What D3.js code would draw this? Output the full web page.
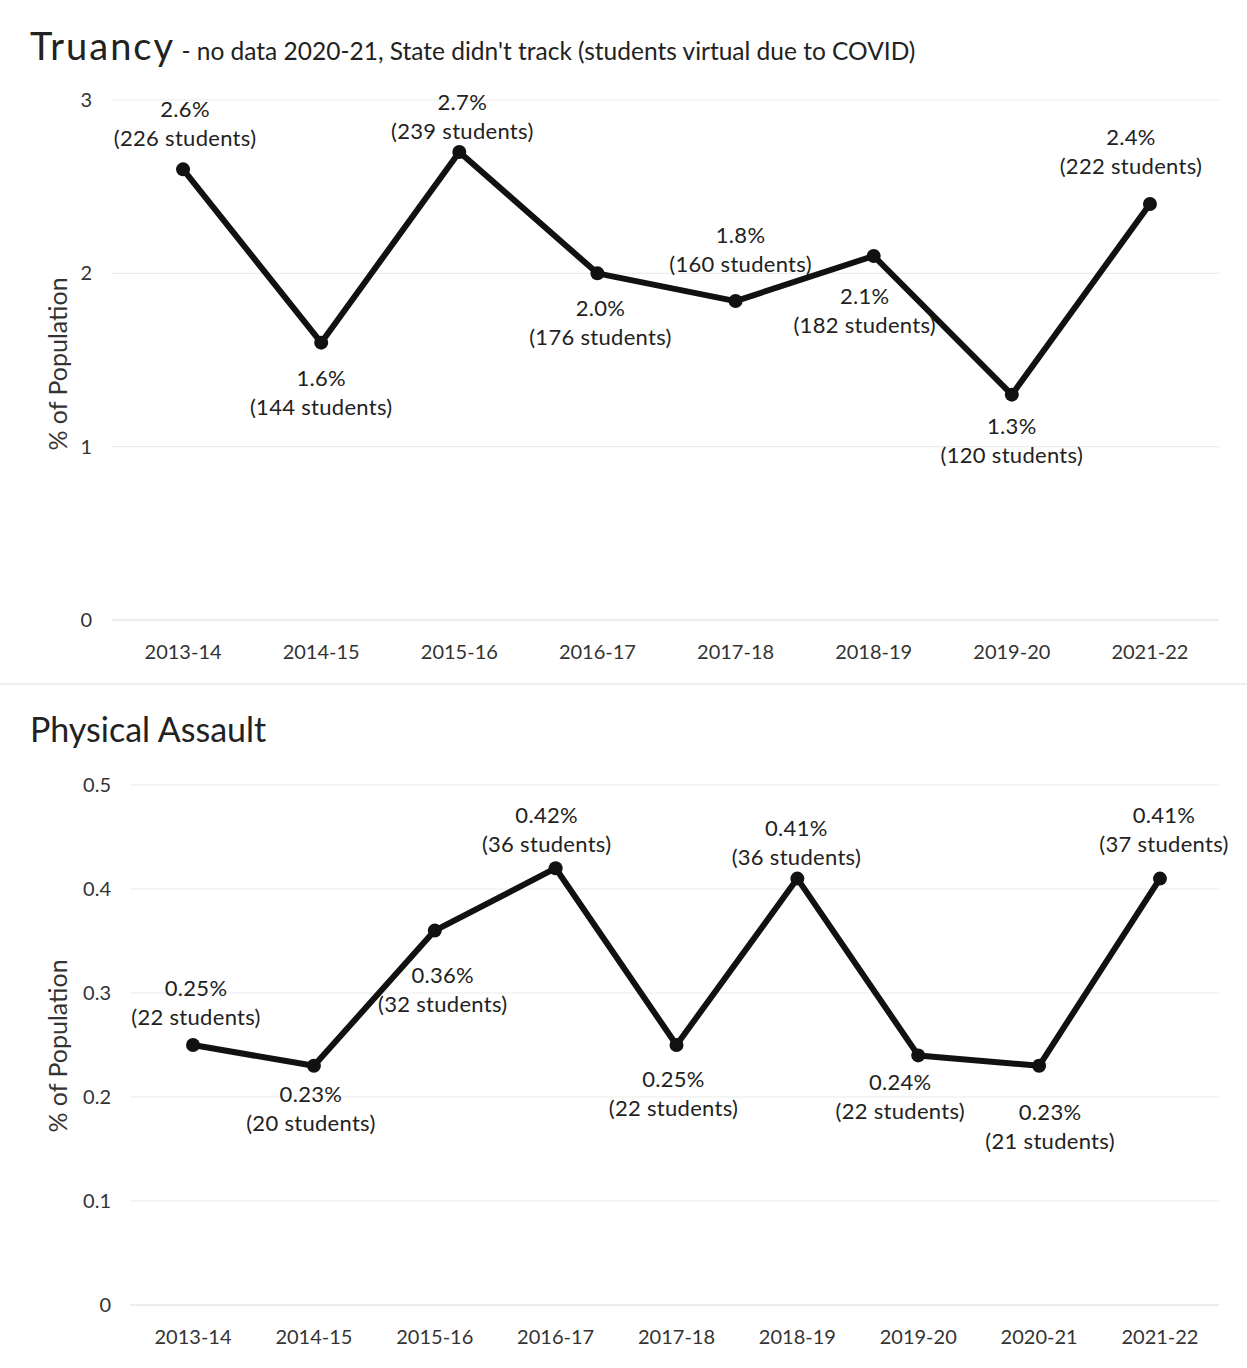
<!DOCTYPE html>
<html>
<head>
<meta charset="utf-8">
<script src="https://cdn.jsdelivr.net/npm/d3@7"></script>
<style>
  body { margin: 0; background: #fff; }
  svg text { font-family: Lato, "Open Sans", sans-serif; fill: #222; }
</style>
</head>
<body>
<div id="chart"></div>
<script>
// ---- data: truancy ----
const truancyYears = ['2013-14', '2014-15', '2015-16', '2016-17', '2017-18', '2018-19', '2019-20', '2021-22'];
const truancyPct = [2.6, 1.6, 2.7, 2.0, 1.84, 2.1, 1.3, 2.4];
const truancyPctText = ['2.6%', '1.6%', '2.7%', '2.0%', '1.8%', '2.1%', '1.3%', '2.4%'];
const truancyStudents = [226, 144, 239, 176, 160, 182, 120, 222];
const truancyTicks = [0, 1, 2, 3];

// ---- data: physical assault ----
const assaultYears = ['2013-14', '2014-15', '2015-16', '2016-17', '2017-18', '2018-19', '2019-20', '2020-21', '2021-22'];
const assaultPct = [0.25, 0.23, 0.36, 0.42, 0.25, 0.41, 0.24, 0.23, 0.41];
const assaultPctText = ['0.25%', '0.23%', '0.36%', '0.42%', '0.25%', '0.41%', '0.24%', '0.23%', '0.41%'];
const assaultStudents = [22, 20, 32, 36, 22, 36, 22, 21, 37];
const assaultTicks = [0, 0.1, 0.2, 0.3, 0.4, 0.5];

// label placement (offset of the first label line from its point: dx, dy)
const truancyLabelPos = [[2, -60], [0, 36], [3, -50], [3, 35], [5, -66], [-9, 40], [0, 32], [-19, -67]];
const assaultLabelPos = [[3, -57], [-3, 28], [8, 45], [-9, -53], [-3, 34], [-1, -50], [-18, 27], [11, 46], [4, -63]];

const W = 1247, H = 1368;
const svg = d3.select('#chart').append('svg').attr('width', W).attr('height', H);
svg.append('rect').attr('width', W).attr('height', H).attr('fill', '#fff');

// faint panel separator like the scanned page
svg.append('line').attr('x1', 0).attr('x2', W).attr('y1', 684).attr('y2', 684)
  .attr('stroke', '#e8e8e8').attr('stroke-width', 1.5);

function drawPanel(o) {
  const g = svg.append('g');
  const x = d3.scalePoint().domain(o.cats).range(o.xRange).padding(0.5);
  const y = d3.scaleLinear().domain([0, d3.max(o.ticks)]).range(o.yRange);

  // grid
  g.selectAll('.grid').data(o.ticks).join('line')
    .attr('x1', o.gridX[0]).attr('x2', o.gridX[1])
    .attr('y1', d => y(d)).attr('y2', d => y(d))
    .attr('stroke', d => d === 0 ? '#dcdcdc' : '#ececec').attr('stroke-width', 1.2);

  // y tick labels
  g.selectAll('.yt').data(o.ticks).join('text')
    .attr('x', o.yLabelX).attr('y', d => y(d)).attr('dy', '0.35em')
    .attr('text-anchor', 'end').attr('font-size', '20px').style('fill', '#333')
    .text(d => d);

  // x tick labels
  g.selectAll('.xt').data(o.cats).join('text')
    .attr('x', d => x(d)).attr('y', o.xLabelY).attr('dy', '0.35em')
    .attr('text-anchor', 'middle').attr('font-size', '20px').style('fill', '#333')
    .text(d => d);

  // y axis title
  g.append('text')
    .attr('transform', `translate(58,${o.yTitleY}) rotate(-90)`)
    .attr('dy', '0.35em').attr('text-anchor', 'middle')
    .attr('font-size', '25px').style('fill', '#333').text('% of Population');

  // title
  const t = g.append('text').attr('x', 30).attr('y', o.titleY);
  t.append('tspan').attr('font-size', o.titleSize + 'px')
    .attr('letter-spacing', o.titleSpacing).text(o.title);
  if (o.subtitle) t.append('tspan').attr('font-size', '24.5px').text(o.subtitle);

  const pts = o.cats.map((c, i) => ({ c, v: o.values[i], i }));

  // line
  g.append('path').datum(pts)
    .attr('d', d3.line().x(d => x(d.c)).y(d => y(d.v)))
    .attr('fill', 'none').attr('stroke', '#111').attr('stroke-width', 6)
    .attr('stroke-linejoin', 'round');

  // markers
  g.selectAll('.pt').data(pts).join('circle')
    .attr('cx', d => x(d.c)).attr('cy', d => y(d.v)).attr('r', 7).attr('fill', '#111');

  // data labels
  pts.forEach(d => {
    const [dx, dy] = o.labelPos[d.i];
    const cx = x(d.c) + dx, cy = y(d.v) + dy;
    g.append('text').attr('x', cx).attr('y', cy).attr('dy', '0.35em')
      .attr('text-anchor', 'middle').attr('font-size', '22px').attr('letter-spacing', 0.3)
      .text(o.pctText[d.i]);
    g.append('text').attr('x', cx).attr('y', cy + 29).attr('dy', '0.35em')
      .attr('text-anchor', 'middle').attr('font-size', '22px').attr('letter-spacing', 0.3)
      .text(`(${o.students[d.i]} students)`);
  });
}

drawPanel({
  cats: truancyYears, values: truancyPct, pctText: truancyPctText, students: truancyStudents,
  ticks: truancyTicks, labelPos: truancyLabelPos,
  xRange: [114, 1219], yRange: [620, 100], gridX: [112, 1219],
  yLabelX: 92, xLabelY: 652, titleY: 60, yTitleY: 364,
  title: 'Truancy', titleSize: 38, titleSpacing: 2,
  subtitle: " - no data 2020-21, State didn't track (students virtual due to COVID)"
});

drawPanel({
  cats: assaultYears, values: assaultPct, pctText: assaultPctText, students: assaultStudents,
  ticks: assaultTicks, labelPos: assaultLabelPos,
  xRange: [132.6, 1220.4], yRange: [1305, 785], gridX: [130, 1219],
  yLabelX: 111, xLabelY: 1337, titleY: 742, yTitleY: 1046,
  title: 'Physical Assault', titleSize: 34, titleSpacing: 0,
  subtitle: null
});
</script>
</body>
</html>
